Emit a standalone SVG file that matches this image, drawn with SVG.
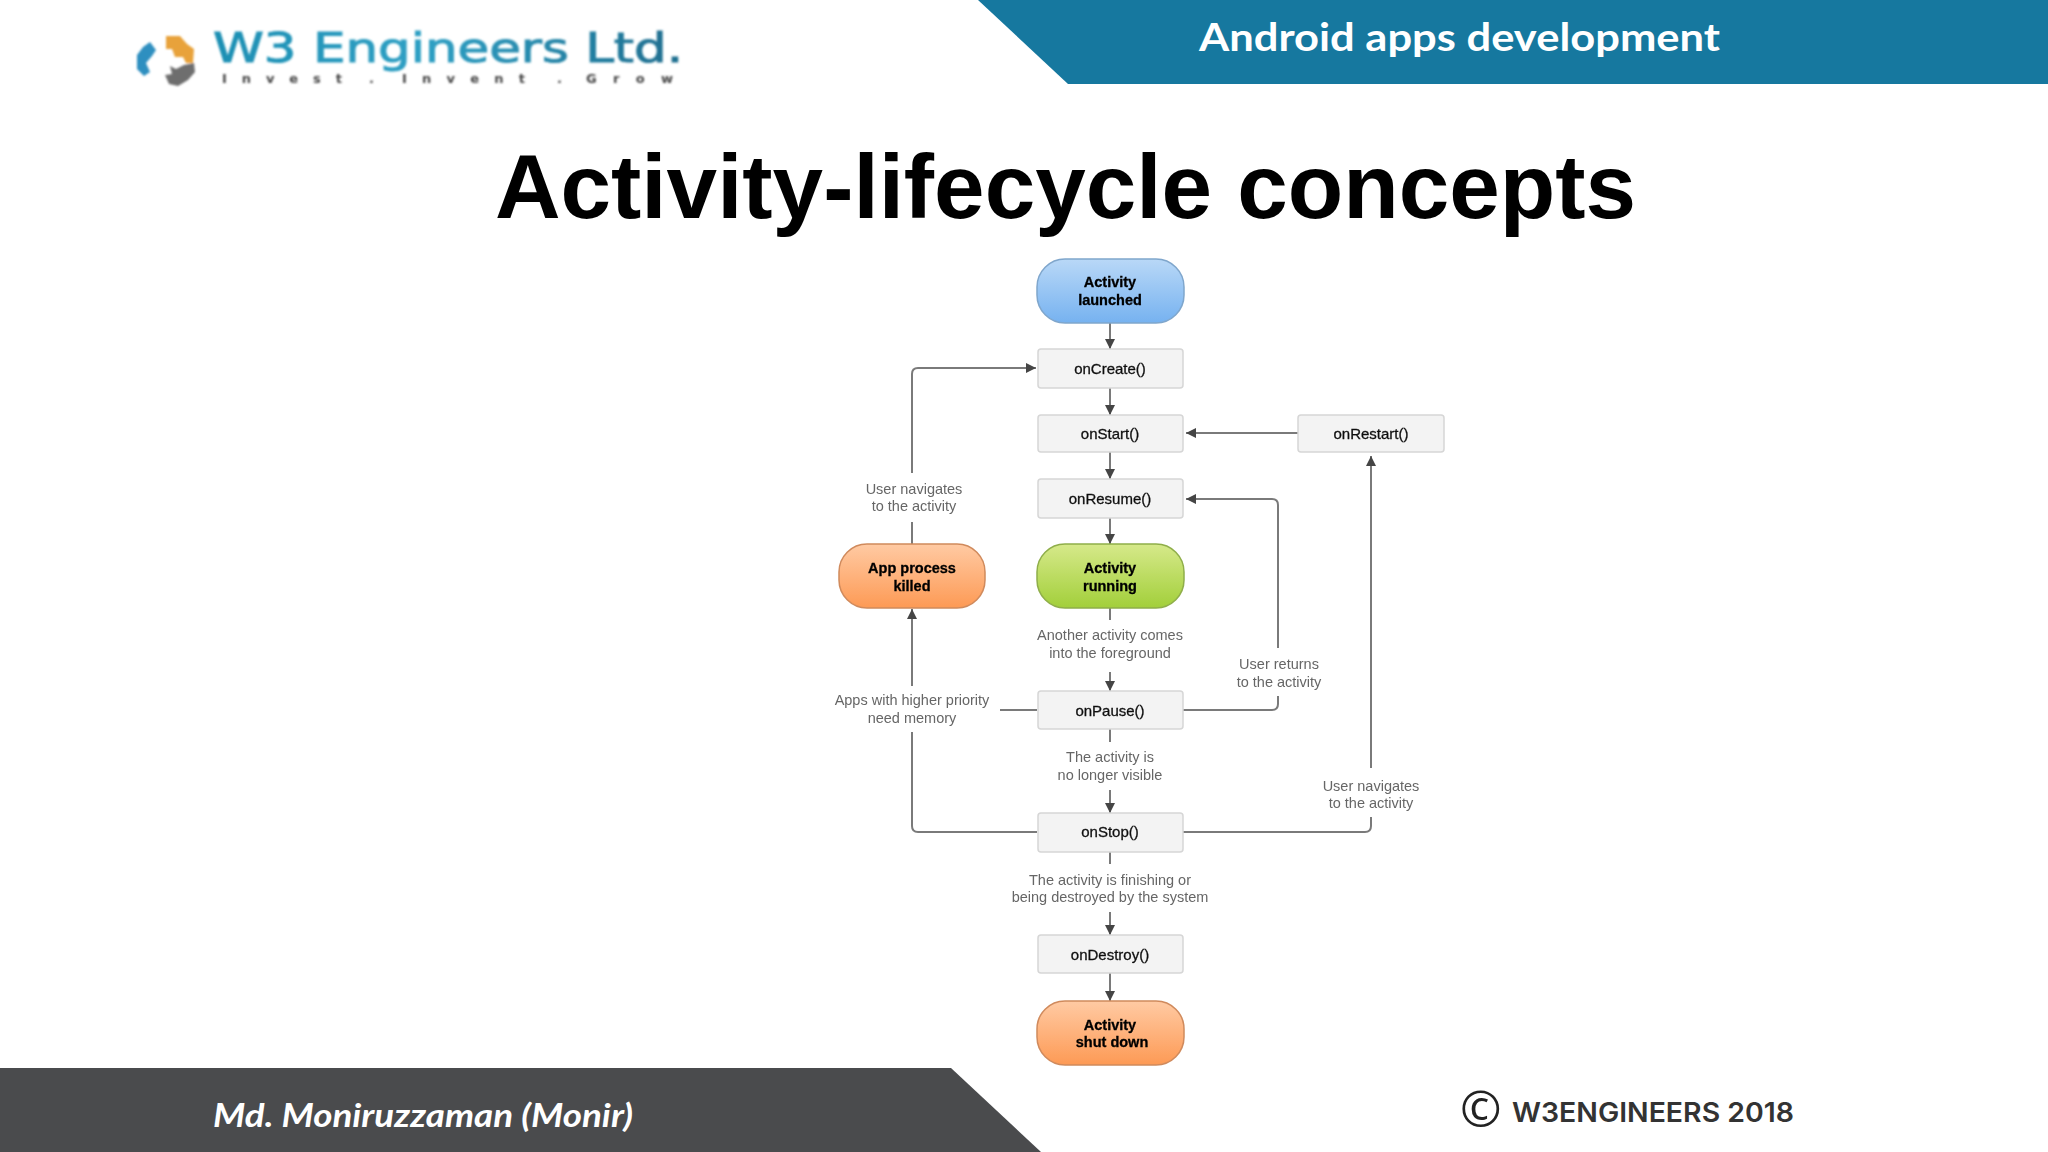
<svg xmlns="http://www.w3.org/2000/svg" width="2048" height="1152" viewBox="0 0 2048 1152">
<defs>
<linearGradient id="gBlue" x1="0" y1="0" x2="0" y2="1"><stop offset="0" stop-color="#b9d8f7"/><stop offset="1" stop-color="#76b2f0"/></linearGradient>
<linearGradient id="gGreen" x1="0" y1="0" x2="0" y2="1"><stop offset="0" stop-color="#d6e98a"/><stop offset="1" stop-color="#a2cf3a"/></linearGradient>
<linearGradient id="gOrange" x1="0" y1="0" x2="0" y2="1"><stop offset="0" stop-color="#ffcaa3"/><stop offset="1" stop-color="#fd9a55"/></linearGradient>
<linearGradient id="gLogo" x1="0" y1="0" x2="1" y2="0"><stop offset="0" stop-color="#1d8fb3"/><stop offset=".45" stop-color="#2fa0c4"/><stop offset="1" stop-color="#1f6d8e"/></linearGradient>
<filter id="soft" x="-5%" y="-5%" width="110%" height="110%"><feGaussianBlur stdDeviation="0.7"/></filter>
<filter id="softer" x="-10%" y="-10%" width="120%" height="120%"><feGaussianBlur stdDeviation="1.2"/></filter>
<marker id="arrow" viewBox="0 0 10 10" refX="10" refY="5" markerWidth="10" markerHeight="10" markerUnits="userSpaceOnUse" orient="auto"><path d="M0 0L10 5L0 10Z" fill="#444"/></marker>
</defs>
<style>
.box{fill:#f3f3f3;stroke:#d6d6d6;stroke-width:1.5}
.pill{stroke-width:1.5}
.m{font:15px "Liberation Sans",Arial,sans-serif;fill:#111;stroke:#111;stroke-width:.3;text-anchor:middle}
.t{font:bold 14.5px "Liberation Sans",Arial,sans-serif;fill:#000;stroke:#000;stroke-width:.3;text-anchor:middle}
.l{font:14.5px "Liberation Sans",Arial,sans-serif;fill:#666;text-anchor:middle}
.c{fill:none;stroke:#7a7a7a;stroke-width:2}
.a{marker-end:url(#arrow)}
.sub{font:bold 13px "DejaVu Sans",sans-serif;fill:#444}
</style>
<rect width="2048" height="1152" fill="#fff"/>
<polygon points="978,0 2048,0 2048,84 1068,84" fill="#16789f"/>
<text x="1199" y="51" font-family="Lato,'Open Sans',sans-serif" font-weight="700" font-size="39" fill="#fff" textLength="521" lengthAdjust="spacingAndGlyphs">Android apps development</text>
<g id="logo" filter="url(#softer)">
<path d="M166 36h14l7 8 7 5-1 14h-7l-3-6h-8l-3-8h-6z" fill="#e8a23a"/>
<path d="M150 42l-7 5-6 8v14l7 7 6-4-4-9 6-7 4-6z" fill="#2f8fc0"/>
<path d="M170 66l6 3 8-4 10-2 1 9-7 8-10 6-9-2-4-9 7-1z" fill="#6e6e6e"/>
<text x="213" y="62" font-family="'DejaVu Sans',sans-serif" font-size="40" fill="url(#gLogo)" stroke="url(#gLogo)" stroke-width="1" textLength="470" lengthAdjust="spacingAndGlyphs">W3 Engineers Ltd.</text>
<text class="sub" x="222" y="83" textLength="120">Invest</text>
<text class="sub" x="369" y="83">.</text>
<text class="sub" x="402" y="83" textLength="123">Invent</text>
<text class="sub" x="557" y="83">.</text>
<text class="sub" x="586" y="83" textLength="87">Grow</text>
</g>
<text x="495" y="218" font-family="'Liberation Sans',Arial,sans-serif" font-weight="700" font-size="90.5" fill="#000" textLength="1141" lengthAdjust="spacingAndGlyphs">Activity-lifecycle concepts</text>
<polygon points="0,1068 951,1068 1041,1152 0,1152" fill="#4a4b4d"/>
<text x="213" y="1127" font-family="Lato,'Open Sans',sans-serif" font-style="italic" font-weight="700" font-size="33" fill="#fff" textLength="420" lengthAdjust="spacingAndGlyphs">Md. Moniruzzaman (Monir)</text>
<text x="1460" y="1127" font-family="'Open Sans',sans-serif" font-size="50" fill="#222">©</text>
<text x="1512" y="1122" font-family="Inter,'Open Sans',sans-serif" font-weight="600" font-size="27" fill="#333" textLength="282" lengthAdjust="spacingAndGlyphs">W3ENGINEERS 2018</text>
<g filter="url(#soft)">
<g id="connectors">
<path class="c a" d="M1110 323V349"/>
<path class="c a" d="M1110 388V415"/>
<path class="c a" d="M1110 452V479"/>
<path class="c a" d="M1110 518V544"/>
<path class="c" d="M1110 608V620"/>
<path class="c a" d="M1110 672V691"/>
<path class="c" d="M1110 729V742"/>
<path class="c a" d="M1110 790V813"/>
<path class="c" d="M1110 852V864"/>
<path class="c a" d="M1110 912V935"/>
<path class="c a" d="M1110 973V1001"/>
<path class="c a" d="M1298 433H1186"/>
<path class="c" d="M912 544V522"/>
<path class="c a" d="M912 473V374Q912 368 918 368H1036"/>
<path class="c" d="M1037 710H1000"/>
<path class="c a" d="M912 686V609"/>
<path class="c" d="M1037 832H918Q912 832 912 826V732"/>
<path class="c" d="M1183 710H1272Q1278 710 1278 704V696"/>
<path class="c a" d="M1278 648V505Q1278 499 1272 499H1186"/>
<path class="c" d="M1183 832H1365Q1371 832 1371 826V817"/>
<path class="c a" d="M1371 768V456"/>
</g>
<g id="activity-launched"><rect class="pill" x="1037" y="259" width="147" height="64" rx="28" fill="url(#gBlue)" stroke="#7fa6cc"/><text class="t" x="1110" y="287">Activity</text><text class="t" x="1110" y="305">launched</text></g>
<g id="on-create"><rect class="box" x="1038" y="349" width="145" height="39" rx="3"/><text class="m" x="1110" y="374">onCreate()</text></g>
<g id="on-start"><rect class="box" x="1038" y="415" width="145" height="37" rx="3"/><text class="m" x="1110" y="439">onStart()</text></g>
<g id="on-restart"><rect class="box" x="1298" y="415" width="146" height="37" rx="3"/><text class="m" x="1371" y="439">onRestart()</text></g>
<g id="on-resume"><rect class="box" x="1038" y="479" width="145" height="39" rx="3"/><text class="m" x="1110" y="504">onResume()</text></g>
<g id="activity-running"><rect class="pill" x="1037" y="544" width="147" height="64" rx="28" fill="url(#gGreen)" stroke="#8fae4a"/><text class="t" x="1110" y="573">Activity</text><text class="t" x="1110" y="591">running</text></g>
<g id="app-killed"><rect class="pill" x="839" y="544" width="146" height="64" rx="28" fill="url(#gOrange)" stroke="#d08a5c"/><text class="t" x="912" y="573">App process</text><text class="t" x="912" y="591">killed</text></g>
<g id="on-pause"><rect class="box" x="1038" y="691" width="145" height="38" rx="3"/><text class="m" x="1110" y="716">onPause()</text></g>
<g id="on-stop"><rect class="box" x="1038" y="813" width="145" height="39" rx="3"/><text class="m" x="1110" y="837">onStop()</text></g>
<g id="on-destroy"><rect class="box" x="1038" y="935" width="145" height="38" rx="3"/><text class="m" x="1110" y="960">onDestroy()</text></g>
<g id="activity-shutdown"><rect class="pill" x="1037" y="1001" width="147" height="64" rx="28" fill="url(#gOrange)" stroke="#d08a5c"/><text class="t" x="1110" y="1030">Activity</text><text class="t" x="1112" y="1047">shut down</text></g>
<g id="labels">
<text class="l" x="914" y="494">User navigates</text><text class="l" x="914" y="511">to the activity</text>
<text class="l" x="1110" y="640">Another activity comes</text><text class="l" x="1110" y="658">into the foreground</text>
<text class="l" x="1279" y="669">User returns</text><text class="l" x="1279" y="687">to the activity</text>
<text class="l" x="912" y="705">Apps with higher priority</text><text class="l" x="912" y="723">need memory</text>
<text class="l" x="1110" y="762">The activity is</text><text class="l" x="1110" y="780">no longer visible</text>
<text class="l" x="1371" y="791">User navigates</text><text class="l" x="1371" y="808">to the activity</text>
<text class="l" x="1110" y="885">The activity is finishing or</text><text class="l" x="1110" y="902">being destroyed by the system</text>
</g>
</g>
</svg>
